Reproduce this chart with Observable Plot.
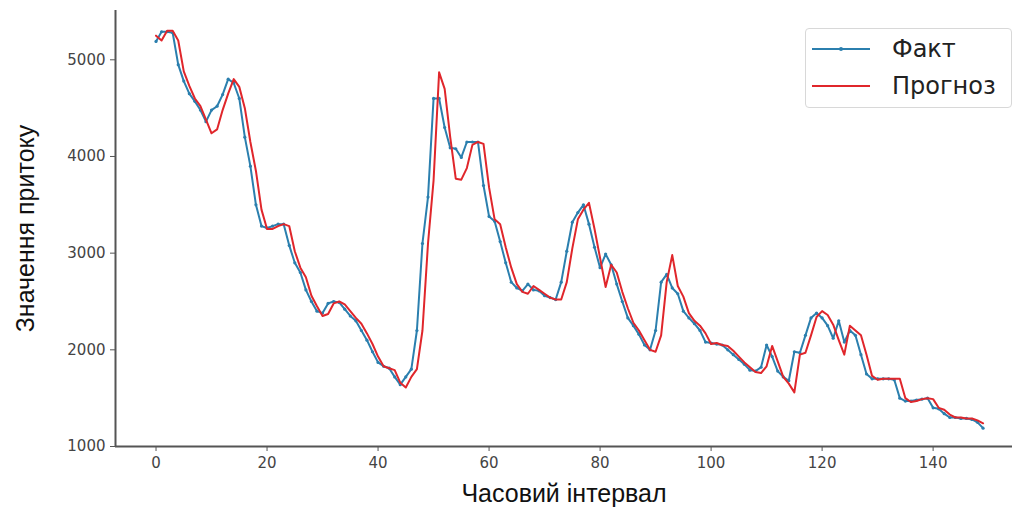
<!DOCTYPE html>
<html>
<head>
<meta charset="utf-8">
<script src="https://cdn.jsdelivr.net/npm/d3@7"></script>
<script src="https://cdn.jsdelivr.net/npm/@observablehq/plot@0.6"></script>
<style>
  body { margin: 0; background: #fff; }
  #wrap { position: relative; width: 1014px; height: 521px; }
  #legend {
    position: absolute; left: 805px; top: 28px; width: 205px; height: 78px;
    border: 1.5px solid #d8d8d8; border-radius: 4px; background: rgba(255,255,255,0.85);
    font-family: "DejaVu Sans", sans-serif; font-size: 24px; color: #222;
  }
  .row { position: absolute; left: 0; height: 32px; display: flex; align-items: center; }
  .row svg { margin-left: 6px; }
  .row span { margin-left: 22px; }
</style>
</head>
<body>
<div id="wrap"></div>
<script>
const fact = [
  5190, 5290, 5290, 5280, 4950, 4780, 4650, 4570, 4480, 4360,
  4480, 4520, 4640, 4800, 4760, 4600, 4200, 3900, 3500, 3280,
  3260, 3280, 3300, 3300, 3080, 2900, 2800, 2620, 2500, 2400,
  2380, 2480, 2500, 2490, 2420, 2350, 2300, 2200, 2100, 1980,
  1870, 1830, 1810, 1720, 1640, 1720, 1800, 2200, 3100, 3580,
  4600, 4600, 4300, 4090, 4080, 3990, 4150, 4150, 4150, 3700,
  3380, 3330, 3120, 2900, 2700, 2640, 2610, 2680, 2620, 2610,
  2560, 2540, 2520, 2700, 3020, 3320, 3420, 3500, 3300, 3060,
  2850, 2990, 2880, 2680, 2500, 2330, 2250, 2160, 2050, 2000,
  2200, 2700, 2780, 2640, 2580, 2400, 2330, 2270, 2200, 2080,
  2070, 2060, 2050, 2000, 1950, 1900, 1850, 1790, 1780, 1820,
  2050, 1930, 1780, 1720, 1680, 1980, 1970, 2150, 2330, 2380,
  2330, 2250, 2120, 2300, 2080, 2200, 2150, 1950, 1750, 1700,
  1700, 1700, 1700, 1690, 1500, 1470, 1470, 1480, 1490, 1500,
  1400, 1390, 1340, 1300, 1300, 1290, 1290, 1280, 1250, 1190
];
const forecast = [
  5250, 5200, 5300, 5300, 5200, 4880, 4730, 4600, 4520, 4380,
  4240, 4280, 4480, 4650, 4800, 4720, 4500, 4150, 3850, 3450,
  3250, 3250, 3280, 3300, 3280, 3020, 2850, 2750, 2560, 2450,
  2350, 2370, 2480, 2500, 2470, 2400, 2330, 2270, 2170, 2060,
  1930, 1830, 1810, 1790, 1660, 1610, 1720, 1800, 2200, 3100,
  3750, 4870, 4700, 4200, 3770, 3760, 3880, 4120, 4150, 4130,
  3680, 3350, 3300, 3060, 2850, 2680, 2600, 2580, 2660, 2620,
  2580, 2540, 2520, 2520, 2700, 3050, 3350, 3450, 3520, 3250,
  2950, 2650, 2880, 2800, 2600, 2430, 2280, 2200, 2100, 2000,
  1980, 2150, 2700, 2980, 2660, 2550, 2380, 2300, 2250, 2170,
  2060, 2070, 2050, 2040, 1990, 1930, 1870, 1820, 1770, 1760,
  1830, 2040, 1880, 1720, 1650, 1560, 1950, 1970, 2150, 2340,
  2400, 2360, 2260, 2100, 1950, 2250, 2200, 2150, 1950, 1730,
  1690, 1700, 1700, 1700, 1700, 1500, 1460, 1470, 1490, 1500,
  1490, 1400, 1380, 1330, 1300, 1300, 1290, 1290, 1270, 1240
];
const xTicks = [0, 20, 40, 60, 80, 100, 120, 140];
const yTicks = [1000, 2000, 3000, 4000, 5000];
const xDomain = [-7.3, 154.3];
const yDomain = [1000, 5510];
const seriesNames = ["Факт", "Прогноз"];
const colors = ["#2b7fae", "#e0262b"];
const xLabel = "Часовий інтервал";
const yLabel = "Значення притоку";

const factData = fact.map((v, i) => ({i, v}));
const fcData = forecast.map((v, i) => ({i, v}));

const chart = Plot.plot({
  width: 1014,
  height: 521,
  marginLeft: 115,
  marginRight: 2,
  marginTop: 10,
  marginBottom: 75,
  style: {fontFamily: "DejaVu Sans, sans-serif", background: "#fff"},
  x: {domain: xDomain},
  y: {domain: yDomain},
  marks: [
    Plot.ruleX([xDomain[0]], {stroke: "#555", strokeWidth: 2}),
    Plot.ruleY([yDomain[0]], {stroke: "#555", strokeWidth: 2}),
    Plot.axisX({ticks: xTicks, tickSize: 5, tickPadding: 6, fontSize: 15, color: "#444",
      stroke: "#555", tickFormat: d => String(d), label: null}),
    Plot.axisY({ticks: yTicks, tickSize: 5, tickPadding: 5, fontSize: 15, color: "#444",
      stroke: "#555", tickFormat: d => String(d), label: null}),
    Plot.text([xLabel], {frameAnchor: "bottom", dy: 55, fontSize: 25, fill: "#111",
      textAnchor: "middle", fontFamily: "Liberation Sans, Arial, sans-serif"}),
    Plot.text([yLabel], {frameAnchor: "left", dx: -90, rotate: -90, fontSize: 25, fill: "#111",
      textAnchor: "middle", fontFamily: "Liberation Sans, Arial, sans-serif"}),
    Plot.line(factData, {x: "i", y: "v", stroke: colors[0], strokeWidth: 2}),
    Plot.dot(factData, {x: "i", y: "v", r: 1.6, fill: colors[0], stroke: "none"}),
    Plot.line(fcData, {x: "i", y: "v", stroke: colors[1], strokeWidth: 2})
  ]
});
const wrap = document.getElementById("wrap");
wrap.appendChild(chart);

const legend = document.createElement("div");
legend.id = "legend";
seriesNames.forEach((name, k) => {
  const row = document.createElement("div");
  row.className = "row";
  row.style.top = (k === 0 ? 4 : 41) + "px";
  const marker = k === 0
    ? `<svg width="58" height="10"><line x1="0" y1="5" x2="58" y2="5" stroke="${colors[k]}" stroke-width="2"/><circle cx="29" cy="5" r="2" fill="${colors[k]}"/></svg>`
    : `<svg width="58" height="10"><line x1="0" y1="5" x2="58" y2="5" stroke="${colors[k]}" stroke-width="2"/></svg>`;
  row.innerHTML = marker + `<span>${name}</span>`;
  legend.appendChild(row);
});
wrap.appendChild(legend);
</script>
</body>
</html>
